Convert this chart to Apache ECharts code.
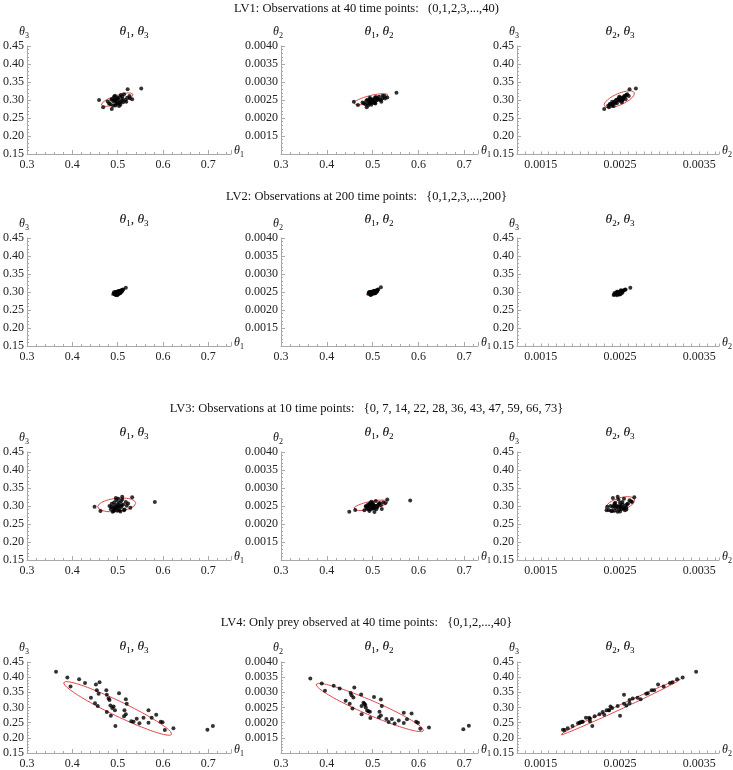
<!DOCTYPE html>
<html>
<head>
<meta charset="utf-8">
<script src="https://cdn.jsdelivr.net/npm/echarts@6/dist/echarts.min.js"></script>
<style>
  html, body { margin: 0; padding: 0; background: #fff; }
  #chart { width: 733px; height: 770px; }
</style>
</head>
<body>
<div id="chart"></div>
<script>
// ---- texts ----
const rowTitles = [
  "LV1: Observations at 40 time points:   (0,1,2,3,...,40)",
  "LV2: Observations at 200 time points:   {0,1,2,3,...,200}",
  "LV3: Observations at 10 time points:   {0, 7, 14, 22, 28, 36, 43, 47, 59, 66, 73}",
  "LV4: Only prey observed at 40 time points:   {0,1,2,...,40}"
];
// [symbol, subscript] pairs for the panel titles and axis names
const panelTitles = [[["θ", "1"], ["θ", "3"]], [["θ", "1"], ["θ", "2"]], [["θ", "2"], ["θ", "3"]]];

// ---- tick labels ----
const theta1TickLabels = ["0.3", "0.4", "0.5", "0.6", "0.7"];
const theta3TickLabels = ["0.15", "0.20", "0.25", "0.30", "0.35", "0.40", "0.45"];
const theta2YTickLabels = ["0.0015", "0.0020", "0.0025", "0.0030", "0.0035", "0.0040"];
const theta2XTickLabels = ["0.0015", "0.0025", "0.0035"];

// ---- LV1 estimates ----
const lv1Theta1 = [0.459, 0.552, 0.522, 0.468, 0.487, 0.532, 0.478, 0.495, 0.510, 0.488,
  0.503, 0.492, 0.517, 0.495, 0.484, 0.507, 0.498, 0.521, 0.500, 0.491,
  0.512, 0.503, 0.486, 0.505, 0.526, 0.497, 0.509, 0.481, 0.514, 0.499,
  0.493, 0.519, 0.506, 0.502, 0.527, 0.494, 0.511, 0.505, 0.490, 0.496];
const lv1Theta2 = [0.00245, 0.00270, 0.00262, 0.00236, 0.00230, 0.00257, 0.00243, 0.00240, 0.00255, 0.00251,
  0.00246, 0.00249, 0.00250, 0.00253, 0.00238, 0.00258, 0.00244, 0.00254, 0.00248, 0.00240,
  0.00252, 0.00242, 0.00247, 0.00256, 0.00261, 0.00237, 0.00249, 0.00241, 0.00259, 0.00251,
  0.00246, 0.00245, 0.00240, 0.00252, 0.00254, 0.00256, 0.00253, 0.00243, 0.00235, 0.00248];
const lv1Theta3 = [0.300, 0.332, 0.330, 0.280, 0.275, 0.302, 0.296, 0.285, 0.310, 0.303,
  0.291, 0.309, 0.300, 0.298, 0.288, 0.314, 0.292, 0.306, 0.304, 0.295,
  0.294, 0.283, 0.301, 0.308, 0.311, 0.289, 0.298, 0.290, 0.316, 0.307,
  0.300, 0.295, 0.287, 0.299, 0.305, 0.312, 0.303, 0.293, 0.284, 0.301];

// ---- LV2 estimates ----
const lv2Theta1 = [0.491, 0.493, 0.494, 0.495, 0.496, 0.497, 0.497, 0.498, 0.499, 0.499,
  0.500, 0.500, 0.501, 0.501, 0.502, 0.502, 0.503, 0.503, 0.504, 0.505,
  0.505, 0.506, 0.507, 0.508, 0.509, 0.510, 0.511, 0.512, 0.518, 0.496,
  0.498, 0.500, 0.502, 0.504, 0.506, 0.492, 0.508, 0.499, 0.503, 0.495];
const lv2Theta2 = [0.00245, 0.00249, 0.00247, 0.00243, 0.00243, 0.00245, 0.00249, 0.00246, 0.00248, 0.00250,
  0.00249, 0.00246, 0.00246, 0.00247, 0.00249, 0.00251, 0.00250, 0.00252, 0.00253, 0.00253,
  0.00249, 0.00247, 0.00254, 0.00252, 0.00251, 0.00253, 0.00256, 0.00257, 0.00263, 0.00242,
  0.00251, 0.00249, 0.00253, 0.00246, 0.00247, 0.00249, 0.00250, 0.00246, 0.00247, 0.00250];
const lv2Theta3 = [0.296, 0.294, 0.298, 0.293, 0.297, 0.295, 0.300, 0.296, 0.298, 0.294,
  0.299, 0.296, 0.301, 0.297, 0.299, 0.295, 0.300, 0.302, 0.298, 0.303,
  0.299, 0.301, 0.304, 0.302, 0.305, 0.303, 0.306, 0.307, 0.312, 0.292,
  0.301, 0.293, 0.303, 0.296, 0.297, 0.299, 0.300, 0.291, 0.297, 0.300];

// ---- LV3 estimates ----
const lv3Theta1 = [0.449, 0.462, 0.582, 0.532, 0.510, 0.528, 0.491, 0.514, 0.482, 0.485,
  0.487, 0.489, 0.490, 0.492, 0.493, 0.494, 0.495, 0.497, 0.498, 0.499,
  0.500, 0.501, 0.502, 0.503, 0.505, 0.506, 0.507, 0.508, 0.510, 0.512,
  0.515, 0.518, 0.520, 0.523, 0.486, 0.496, 0.504, 0.509, 0.494, 0.501];
const lv3Theta2 = [0.00234, 0.00239, 0.00265, 0.00268, 0.00247, 0.00258, 0.00240, 0.00256, 0.00238, 0.00249,
  0.00243, 0.00247, 0.00254, 0.00250, 0.00236, 0.00257, 0.00245, 0.00262, 0.00251, 0.00243,
  0.00259, 0.00255, 0.00252, 0.00244, 0.00246, 0.00250, 0.00264, 0.00241, 0.00248, 0.00253,
  0.00258, 0.00253, 0.00242, 0.00260, 0.00249, 0.00241, 0.00233, 0.00250, 0.00255, 0.00245];
const lv3Theta3 = [0.298, 0.286, 0.311, 0.324, 0.326, 0.295, 0.286, 0.288, 0.300, 0.291,
  0.306, 0.284, 0.296, 0.310, 0.289, 0.302, 0.294, 0.316, 0.298, 0.287,
  0.305, 0.320, 0.292, 0.309, 0.300, 0.285, 0.313, 0.297, 0.318, 0.304,
  0.290, 0.311, 0.301, 0.307, 0.297, 0.322, 0.288, 0.302, 0.293, 0.299];

// ---- LV4 estimates ----
const lv4Theta1 = [0.364, 0.389, 0.396, 0.415, 0.428, 0.441, 0.452, 0.454, 0.460, 0.458,
  0.450, 0.456, 0.475, 0.476, 0.480, 0.482, 0.484, 0.485, 0.488, 0.491,
  0.494, 0.495, 0.503, 0.476, 0.518, 0.520, 0.515, 0.518, 0.514, 0.530,
  0.535, 0.542, 0.548, 0.557, 0.568, 0.575, 0.568, 0.585, 0.595, 0.599,
  0.604, 0.623, 0.698, 0.710];
const lv4Theta2 = [0.00346, 0.00329, 0.00305, 0.00322, 0.00313, 0.00272, 0.00298, 0.00290, 0.00316, 0.00283,
  0.00262, 0.00247, 0.00293, 0.00255, 0.00266, 0.00262, 0.00258, 0.00250, 0.00240, 0.00238,
  0.00236, 0.00215, 0.00285, 0.00228, 0.00276, 0.00255, 0.00236, 0.00224, 0.00218, 0.00212,
  0.00202, 0.00212, 0.00197, 0.00207, 0.00233, 0.00211, 0.00199, 0.00230, 0.00203, 0.00200,
  0.00180, 0.00184, 0.00178, 0.00190];
const lv4Theta3 = [0.418, 0.399, 0.369, 0.393, 0.381, 0.332, 0.376, 0.357, 0.383, 0.345,
  0.314, 0.305, 0.357, 0.342, 0.330, 0.325, 0.307, 0.273, 0.298, 0.303,
  0.291, 0.239, 0.347, 0.285, 0.327, 0.312, 0.291, 0.278, 0.271, 0.255,
  0.253, 0.263, 0.248, 0.266, 0.291, 0.266, 0.250, 0.276, 0.253, 0.251,
  0.226, 0.232, 0.227, 0.239];

// ---- confidence ellipses: centre c, half axes u and v (per panel: θ1θ3, θ1θ2, θ2θ3) ----
const lv1Ellipses = [
  { c: [0.499, 0.301], u: [0.035, 0.015], v: [0.0029, -0.011] },
  { c: [0.496, 0.00252], u: [0.0375, 0.00012], v: [0.0022, -0.0001] },
  { c: [0.00249, 0.302], u: [0.00019, 0.0186], v: [0.000029, -0.0144] }
];
const lv2Ellipses = [
  { c: [0.499, 0.298], u: [0.014, 0.006], v: [0.0015, -0.004] },
  { c: [0.500, 0.00249], u: [0.014, 0.00006], v: [0.001, -0.00004] },
  { c: [0.00250, 0.299], u: [0.00008, 0.007], v: [0.00001, -0.004] }
];
const lv3Ellipses = [
  { c: [0.498, 0.303], u: [0.042, 0.006], v: [-0.002, 0.018] },
  { c: [0.496, 0.00252], u: [0.0375, 0.0001], v: [0.0018, -0.000104] },
  { c: [0.0025, 0.305], u: [0.00018, 0.0146], v: [-0.00004, 0.015] }
];
const lv4Ellipses = [
  { c: [0.500, 0.297], u: [0.119, -0.086], v: [0.0087, 0.0207] },
  { c: [0.494, 0.0025], u: [0.117, -0.00077], v: [0.0087, 0.0002] },
  { c: [0.0025, 0.301], u: [0.00076, 0.092], v: [0.000015, -0.006] }
];

const rows = [
  { t1: lv1Theta1, t2: lv1Theta2, t3: lv1Theta3, ell: lv1Ellipses },
  { t1: lv2Theta1, t2: lv2Theta2, t3: lv2Theta3, ell: lv2Ellipses },
  { t1: lv3Theta1, t2: lv3Theta2, t3: lv3Theta3, ell: lv3Ellipses },
  { t1: lv4Theta1, t2: lv4Theta2, t3: lv4Theta3, ell: lv4Ellipses }
];

// ---- layout ----
const FONT = '"Liberation Serif", "DejaVu Serif", serif';
const AXIS_GRAY = "#a9a9a9";
const colLeft = [25, 281, 517];
const colWidth = [206, 197, 204];
const colTitleX = [134, 379, 620];
const rowTop = [46, 238, 452, 662];
const rowHeight = [108, 108, 108, 96];
const rowTitleY = [10, 198, 410, 624];
const rowSubY = [31, 219, 432, 646];

const axisKinds = {
  t1: { min: 0.3, max: 0.75, interval: 0.1, minor: 5, labels: theta1TickLabels, name: ["θ", "1"] },
  t1b: { min: 0.3, max: 0.73, interval: 0.1, minor: 5, labels: theta1TickLabels, name: ["θ", "1"] },
  t3: { min: 0.15, max: 0.45, interval: 0.05, minor: 5, labels: theta3TickLabels, name: ["θ", "3"] },
  t2y: { min: 0.001, max: 0.004, interval: 0.0005, minor: 5, labels: theta2YTickLabels, name: ["θ", "2"] },
  t2x: { min: 0.0012, max: 0.00375, interval: 0.0001, minor: 0, labels: theta2XTickLabels, name: ["θ", "2"] }
};
const panelAxes = [["t1", "t3"], ["t1b", "t2y"], ["t2x", "t3"]];
const panelVars = [["t1", "t3"], ["t1", "t2"], ["t2", "t3"]];

function richSymbol(p) {
  return "{g|" + p[0] + "}{s|" + p[1] + "}";
}
function richStyles(size) {
  return {
    g: { fontFamily: FONT, fontStyle: "italic", fontSize: size, lineHeight: size + 4, color: "#111" },
    s: { fontFamily: FONT, fontSize: Math.round(size * 0.68), lineHeight: 7, verticalAlign: "bottom", color: "#111" },
    n: { fontFamily: FONT, fontSize: size, lineHeight: size + 4, color: "#111" }
  };
}

function tickFormatter(labels) {
  return function (v) {
    for (const s of labels) {
      if (Math.abs(parseFloat(s) - v) < 1e-9) return s;
    }
    return "";
  };
}

function makeAxis(kind, isX, gi) {
  const k = axisKinds[kind];
  return {
    type: "value",
    gridIndex: gi,
    min: k.min,
    max: k.max,
    interval: k.interval,
    name: richSymbol(k.name),
    nameLocation: "end",
    nameGap: isX ? 3 : -4,
    nameTextStyle: { rich: richStyles(12), padding: isX ? [0, 0, 6, 0] : [0, 6, 0, 0] },
    axisLine: { show: true, onZero: false, lineStyle: { color: AXIS_GRAY, width: 1 } },
    axisTick: { show: true, inside: true, length: k.minor ? 4 : 2.5, lineStyle: { color: AXIS_GRAY } },
    minorTick: { show: !!k.minor, splitNumber: k.minor || 5, length: 2, lineStyle: { color: AXIS_GRAY } },
    splitLine: { show: false },
    axisLabel: {
      formatter: tickFormatter(k.labels),
      fontFamily: FONT, fontSize: 12, color: "#222",
      margin: isX ? 5 : 3
    }
  };
}

function ellipsePoints(e) {
  const pts = [];
  for (let k = 0; k <= 90; k++) {
    const t = (2 * Math.PI * k) / 90;
    pts.push([
      e.c[0] + Math.cos(t) * e.u[0] + Math.sin(t) * e.v[0],
      e.c[1] + Math.cos(t) * e.u[1] + Math.sin(t) * e.v[1]
    ]);
  }
  return pts;
}

const grid = [], xAxis = [], yAxis = [], series = [], graphic = [];

rows.forEach((row, r) => {
  graphic.push({
    type: "text", left: "center", top: rowTitleY[r] - 8,
    style: { text: rowTitles[r], fontFamily: FONT, fontSize: 12.5, fill: "#111" }
  });
  for (let c = 0; c < 3; c++) {
    const gi = r * 3 + c;
    grid.push({ left: colLeft[c], top: rowTop[r], width: colWidth[c], height: rowHeight[r], containLabel: false });
    xAxis.push(makeAxis(panelAxes[c][0], true, gi));
    yAxis.push(makeAxis(panelAxes[c][1], false, gi));
    const pt = panelTitles[c];
    graphic.push({
      type: "text", x: colTitleX[c], y: rowSubY[r],
      style: {
        text: richSymbol(pt[0]) + "{n|, }" + richSymbol(pt[1]),
        rich: richStyles(13.5), align: "center", verticalAlign: "middle"
      }
    });
    const xs = row[panelVars[c][0]], ys = row[panelVars[c][1]];
    series.push({
      type: "line", xAxisIndex: gi, yAxisIndex: gi,
      data: ellipsePoints(row.ell[c]),
      showSymbol: false, symbol: "none", smooth: false, silent: true, z: 2,
      lineStyle: { color: "#e2474c", width: 1 }
    });
    series.push({
      type: "scatter", xAxisIndex: gi, yAxisIndex: gi,
      data: xs.map((x, i) => [x, ys[i]]),
      symbolSize: 4, silent: true, z: 3,
      itemStyle: { color: "#000" }
    });
  }
});

const chart = echarts.init(document.getElementById("chart"), null, { renderer: "canvas" });
chart.setOption({
  animation: false,
  backgroundColor: "#fff",
  grid, xAxis, yAxis, series, graphic
});
</script>
</body>
</html>
